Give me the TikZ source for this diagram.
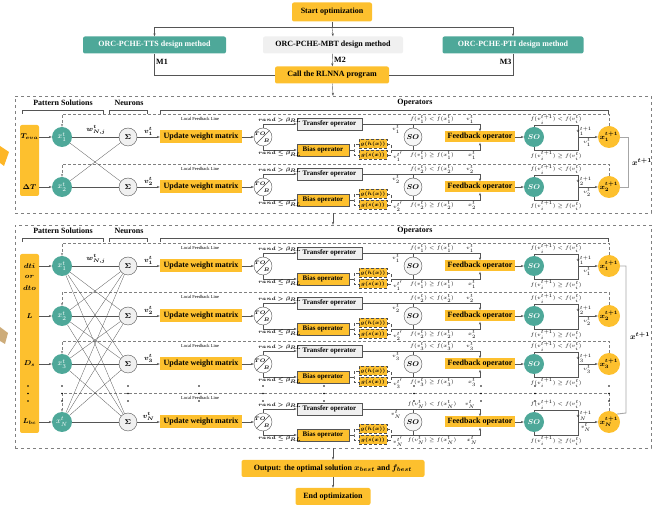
\documentclass[tikz,border=0pt]{standalone}
\usepackage{fontspec}
\setmainfont{Liberation Serif}
\usepackage{bm}
\usetikzlibrary{arrows.meta}
\definecolor{ylw}{RGB}{253,192,46}
\definecolor{tealc}{RGB}{78,168,153}
\definecolor{boxgray}{RGB}{240,240,240}
\definecolor{linegray}{RGB}{85,85,85}
\definecolor{tanc}{RGB}{205,172,122}
\begin{document}
\begin{tikzpicture}[x=1pt, y=-1pt, >={Stealth[length=3pt,width=2.2pt]}, line width=0.4pt,
	every node/.style={inner sep=0pt},
	ybox/.style={fill=ylw, rounded corners=2pt, font=\fontsize{8}{9}\selectfont\bfseries},
	tbox/.style={fill=tealc, rounded corners=2pt, text=white, font=\fontsize{8}{9}\selectfont\bfseries},
	gbox/.style={fill=boxgray, rounded corners=2pt, font=\fontsize{8}{9}\selectfont\bfseries},
	opbox/.style={draw=linegray, line width=0.6pt, font=\fontsize{7}{8}\selectfont\bfseries},
	gfun/.style={fill=ylw, draw=black!70, densely dashed, minimum width=28, minimum height=9, font=\fontsize{5}{6}\selectfont},
	xnode/.style={circle, fill=tealc, text=white, minimum size=20, font=\fontsize{8}{9}\selectfont},
	sig/.style={circle, draw=linegray, fill=boxgray, minimum size=18, font=\fontsize{7}{8}\selectfont},
	tob/.style={circle, draw=linegray, fill=white, minimum size=18},
	sonode/.style={circle, draw=linegray, fill=boxgray!60, minimum size=18, font=\fontsize{7}{8}\selectfont},
	sonew/.style={circle, fill=tealc, text=white, minimum size=20, font=\fontsize{7}{8}\selectfont},
	xnew/.style={circle, fill=ylw, minimum size=22, font=\fontsize{7}{8}\selectfont},
	flbl/.style={font=\fontsize{4.5}{5}\selectfont},
	vlbl/.style={font=\fontsize{7}{8}\selectfont},
	fblbl/.style={font=\fontsize{4.5}{5}\selectfont},
	title/.style={font=\fontsize{8}{9}\selectfont\bfseries},
	inlbl/.style={font=\fontsize{7.5}{8}\selectfont},
	panel/.style={draw=gray, dashed, minimum width=636},
	fbline/.style={densely dashed, draw=gray},
	wire/.style={draw=linegray},
	brace/.style={draw=linegray, line width=0.5pt}]
\useasboundingbox (0,0) rectangle (670,510);

% left decorations
\fill[ylw!85!orange] (0,146) -- (9,152) -- (4,166) -- (0,163) -- cycle;
\fill[tanc] (0,327) -- (8,333) -- (5,344) -- (0,341) -- cycle;

% panels
\node[panel, minimum height=117] (pU) at (333,154.5) {};
\node[panel, minimum height=223] (pL) at (333,336.5) {};

% top flow
\node[ybox, minimum width=80, minimum height=19] (start) at (332,12) {Start optimization};
\node[tbox, minimum width=143, minimum height=17] (mTTS) at (154.5,45) {ORC-PCHE-TTS design method};
\node[gbox, minimum width=140, minimum height=17] (mMBT) at (333,45) {ORC-PCHE-MBT design method};
\node[tbox, minimum width=141, minimum height=17] (mPTI) at (513,45) {ORC-PCHE-PTI design method};
\node[ybox, minimum width=114, minimum height=17] (call) at (332,75) {Call the RLNNA program};
\coordinate (split) at (332,27);
\draw[wire] (start) -- (split);
\draw[wire,->] (split) -| (mTTS.north);
\draw[wire,->] (split) -| (mPTI.north);
\draw[wire,->] (split) -- (mMBT.north);
\draw[wire] (mTTS.south) |- node[pos=0.2, right=1.5pt, title]{M1} (call.west);
\draw[wire,->] (mMBT) -- node[right=1.5pt, title]{M2} (call);
\draw[wire] (mPTI.south) |- node[pos=0.2, left=1.5pt, title]{M3} (call.east);
\draw[wire,->] (call) -- (pU.north);
\draw[wire,->] (pU.south) -- (pL.north);

% bottom flow
\node[ybox, minimum width=183, minimum height=17] (out) at (333,468.5) {Output: the optimal solution $\bm{x_{best}}$ and $\bm{f_{best}}$};
\node[ybox, minimum width=75, minimum height=17] (fin) at (333,496.5) {End optimization};
\draw[wire,->] (pL.south) -- (out);
\draw[wire,->] (out) -- (fin);

% headings and brackets
\foreach \ty in {103,231}{
	\node[title] at (63,\ty) {Pattern Solutions};
	\node[title] at (129,\ty) {Neurons};
	\node[title] at (415,\ty) {Operators};
	\draw[brace] (22,{\ty+11}) -- (22,{\ty+7}) -- (103,{\ty+7}) -- (103,{\ty+11});
	\draw[brace] (109,{\ty+11}) -- (109,{\ty+7}) -- (147,{\ty+7}) -- (147,{\ty+11});
	\draw[brace] (160,{\ty+11}) -- (160,{\ty+7}) -- (608,{\ty+7}) -- (608,{\ty+11});
}

% input boxes
\node[ybox, minimum width=19, minimum height=71] (inU) at (29.5,160.5) {};
\node[ybox, minimum width=19, minimum height=179] (inL) at (29.5,343.5) {};
\node[inlbl] (iT) at (29.5,137) {$\bm{T_{eva}}$};
\node[inlbl] (iD) at (29.5,187) {$\bm{\Delta T}$};
\node[inlbl] (idti) at (29.5,266) {$\bm{dti}$};
\node[inlbl] (ior) at (29.5,277) {$\bm{or}$};
\node[inlbl] (idto) at (29.5,288) {$\bm{dto}$};
\node[inlbl] (iL) at (29.5,316) {$\bm{L}$};
\node[inlbl] (iDs) at (29.5,364) {$\bm{D_s}$};
\node[inlbl] (iLbc) at (29.5,422) {$\bm{L_{bc}}$};

% rows
\foreach \ry/\rw/\ix/\fy in {137/1/1/114, 187/2/2/164, 266/3/1/243, 316/4/2/292, 364/5/3/341, 422/6/N/393}{
	\node[xnode] (x\rw) at (62,\ry) {$x^t_{\ix}$};
	\node[sig] (s\rw) at (128,\ry) {$\bm{\Sigma}$};
	\node[ybox, rounded corners=0pt, minimum width=82, minimum height=13] (u\rw) at (201,\ry) {Update weight matrix};
	\node[tob] (tb\rw) at (263,\ry) {};
	\draw[wire] (tb\rw.225) -- (tb\rw.45);
	\node[flbl] at ([shift={(-3,-3)}]tb\rw.center) {$\bm{TO}$};
	\node[flbl] at ([shift={(3.5,3.5)}]tb\rw.center) {$\bm{B}$};
	\node[opbox, fill=boxgray, minimum width=65, minimum height=12] (tr\rw) at (329.5,{\ry-13}) {Transfer operator};
	\node[opbox, fill=ylw, minimum width=52, minimum height=12] (bi\rw) at (323,{\ry+13}) {Bias operator};
	\node[gfun] (gh\rw) at (373,{\ry+7}) {$\bm{g(h(x))}$};
	\node[gfun] (gs\rw) at (373,{\ry+18}) {$\bm{g(s(x))}$};
	\node[sonode] (so\rw) at (413,\ry) {$\bm{SO}$};
	\node[ybox, rounded corners=0pt, minimum width=70, minimum height=11] (fb\rw) at (480,\ry) {Feedback operator};
	\node[sonew] (sn\rw) at (534,\ry) {$\bm{SO}$};
	\node[xnew] (xn\rw) at (609,\ry) {$\bm{x^{t+1}_{\ix}}$};
	% neuron to operators
	\draw[wire,->] (s\rw) -- node[above=1pt, vlbl]{$\bm{v^t_{\ix}}$} (u\rw);
	\draw[wire,->] (u\rw) -- (tb\rw);
	\draw[wire,->] (tb\rw.north) |- node[pos=0.75, above=0.8pt, flbl]{$\bm{rand>\beta_{RL}}$} (tr\rw.west);
	\draw[wire,->] (tb\rw.south) |- node[pos=0.75, below=0.8pt, flbl]{$\bm{rand\le\beta_{RL}}$} (bi\rw.west);
	\coordinate (bl\rw) at (354,{\ry+13});
	\coordinate (br\rw) at (391,{\ry+13});
	\draw[wire] (bi\rw.east) -- (bl\rw);
	\draw[wire, densely dashed] (gh\rw.west) -| (bl\rw) |- (gs\rw.west);
	\draw[wire, densely dashed] (gh\rw.east) -| (br\rw) |- (gs\rw.east);
	\coordinate (ta\rw) at (480,{\ry-13});
	\coordinate (ba\rw) at (480,{\ry+13});
	\draw[wire,->] (tr\rw.east) -- (ta\rw) -- (fb\rw.north);
	\draw[wire,->] (br\rw) -- (ba\rw) -- (fb\rw.south);
	\draw[wire] (so\rw.north) -- (so\rw.north |- ta\rw);
	\draw[wire] (so\rw.south) -- (so\rw.south |- ba\rw);
	\node[flbl, above=0.6pt] at (432,{\ry-13}) {$f(v^t_{\ix})<f(x^t_{\ix})$};
	\node[flbl, above=0.6pt] at (470,{\ry-13}) {$v^t_{\ix}$};
	\node[flbl, below=1.2pt] at (396,{\ry-13}) {$v^t_{\ix}$};
	\node[flbl, below=1.2pt] at (398,{\ry+13}) {$v^{t'}_{\ix}$};
	\node[flbl, below=1.2pt] at (432,{\ry+13}) {$f(v^t_{\ix})\ge f(x^t_{\ix})$};
	\node[flbl, below=1.2pt] at (472,{\ry+13}) {$x^t_{\ix}$};
	% selection to new solution
	\draw[wire,->] (fb\rw) -- (sn\rw);
	\coordinate (su\rw) at (578,{\ry-12});
	\coordinate (sd\rw) at (578,{\ry+13});
	\coordinate (sm\rw) at (578,\ry);
	\draw[wire] (sn\rw.north) |- (su\rw) -- (sd\rw) -| (sn\rw.south);
	\draw[wire,->] (sm\rw) -- (xn\rw);
	\node[flbl, above=0.6pt] at (556,{\ry-12}) {$f(v^{t+1}_i)<f(v^t_i)$};
	\node[flbl, below=1.2pt] at (556,{\ry+13}) {$f(v^{t+1}_i)\ge f(v^t_i)$};
	\node[flbl, anchor=south east] at (592,{\ry-1}) {$v^{t+1}_{\ix}$};
	\node[flbl, anchor=north east] at (591,{\ry+1.5}) {$v^t_{\ix}$};
	% local feedback
	\coordinate (fr\rw) at (609,\fy);
	\coordinate (fl\rw) at (62,\fy);
	\draw[fbline,->] (xn\rw.north) -- (fr\rw) -- (fl\rw) -- (x\rw.north);
	\node[fblbl] at (200,{\fy+5}) {Local Feedback Line};
}

% inputs into pattern solutions
\foreach \rw in {1,2}
	\draw[wire,->] (inU.east |- x\rw) -- (x\rw);
\foreach \rw in {3,...,6}
	\draw[wire,->] (inL.east |- x\rw) -- (x\rw);

% weights
\node[vlbl] (wU) at (96,130) {$\bm{w^t_{N,j}}$};
\node[vlbl] (wL) at (96,259) {$\bm{w^t_{N,j}}$};
\foreach \a in {1,2}
	\foreach \b in {1,2}
		\draw[wire, line width=0.3pt] (x\a) -- (s\b);
\foreach \a in {3,...,6}
	\foreach \b in {3,...,6}
		\draw[wire, line width=0.3pt] (x\a) -- (s\b);

% vertical dots
\foreach \dx in {28,62,128,199,263,324,414,481,535,609}
	\foreach \dy in {386,393.5,401}
		\fill (\dx,\dy) circle (0.9);

% new population brackets
\coordinate (bU) at (628,187);
\coordinate (bL) at (626,413);
\draw[draw=gray!70, line width=0.9pt] (xn1.east) -| (bU) -- (xn2.east);
\draw[draw=gray!70, line width=0.9pt] (xn3.east) -| (bL) -- (xn6.north east);
\node[title] (xU) at (642,162) {$\bm{x^{t+1}}$};
\node[title] (xL) at (640,336) {$\bm{x^{t+1}}$};
\end{tikzpicture}
\end{document}
